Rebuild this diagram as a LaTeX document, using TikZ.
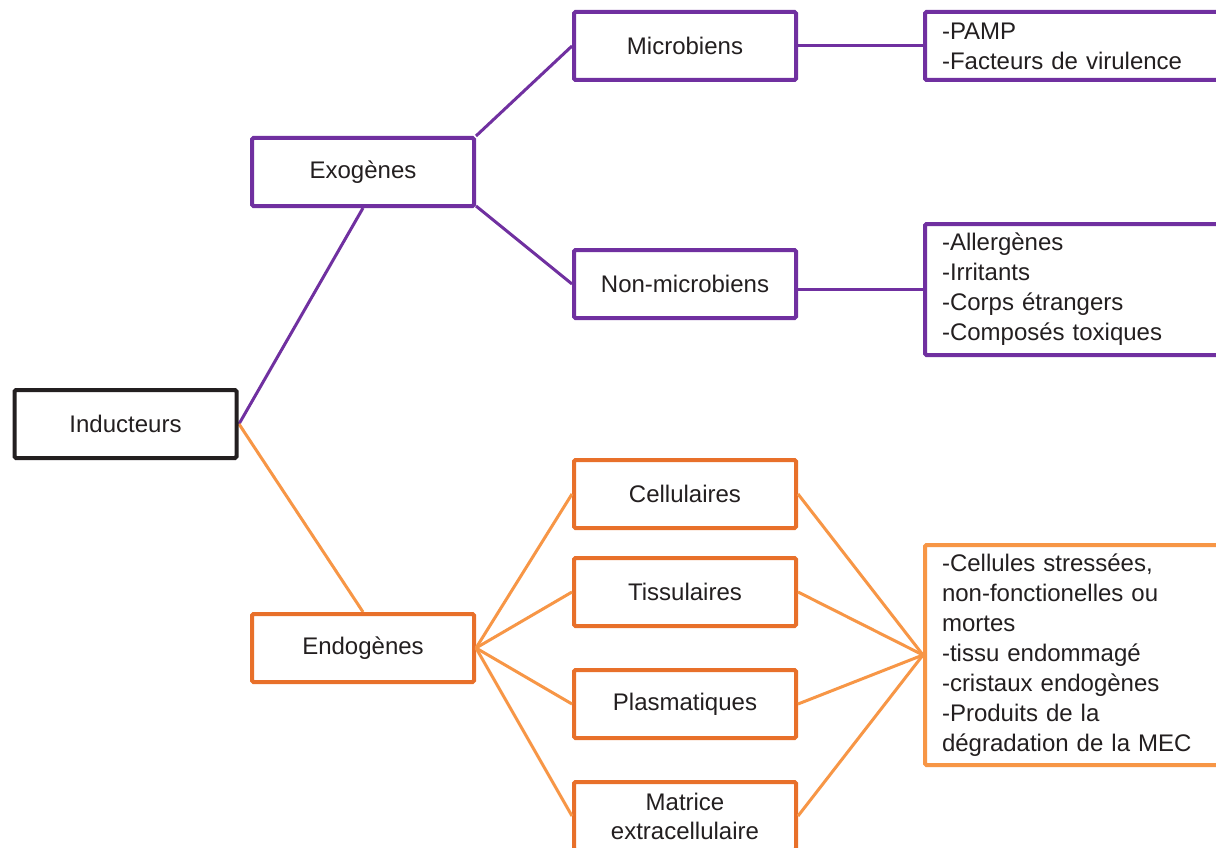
\documentclass[tikz,border=0pt]{standalone}
\usepackage{fontspec}
\setmainfont{Liberation Sans}
\definecolor{purp}{HTML}{7030A0}
\definecolor{orgdark}{HTML}{E8702A}
\definecolor{orglight}{HTML}{F79646}
\definecolor{txt}{HTML}{231F20}
\begin{document}
\begin{tikzpicture}[x=1pt,y=-1pt,
  box/.style={draw, line width=4pt, rounded corners=1.5pt, minimum width=222pt, minimum height=68pt,
    inner sep=0pt, align=center, text=txt, font=\fontsize{24}{29}\selectfont, fill=white},
  listbox/.style={draw, line width=4pt, rounded corners=1.5pt, anchor=west, text width=280pt,
    inner xsep=17pt, inner ysep=0pt, align=left, text=txt, font=\fontsize{24}{30}\selectfont, fill=white},
  pline/.style={draw=purp, line width=3pt},
  oline/.style={draw=orglight, line width=3pt}]
\clip (0,0) rectangle (1216,848);
\fill[white] (0,0) rectangle (1216,848);
% connectors first
\coordinate (ind) at (239,424);
\coordinate (exs) at (363,208);
\coordinate (enn) at (363,612);
\draw[pline] (ind) -- (exs);
\draw[oline] (ind) -- (enn);
% nodes
\node[box, draw=txt] (inducteurs) at (125.5,424) {Inducteurs};
\node[box, draw=purp] (exo) at (363,172) {Exogènes};
\node[box, draw=purp] (mic) at (685,46) {Microbiens};
\node[box, draw=purp] (nonmic) at (685,284) {Non-microbiens};
\node[box, draw=orgdark] (endo) at (363,648) {Endogènes};
\node[box, draw=orgdark] (cell) at (685,494) {Cellulaires};
\node[box, draw=orgdark] (tiss) at (685,592) {Tissulaires};
\node[box, draw=orgdark] (plas) at (685,704) {Plasmatiques};
\node[box, draw=orgdark] (matr) at (685,816) {Matrice\\extracellulaire};
\node[listbox, draw=purp, minimum height=68pt] (pamp) at (923,46) {-PAMP\\-Facteurs de virulence};
\node[listbox, draw=purp, minimum height=131pt] (allerg) at (923,289.5) {-Allergènes\\-Irritants\\-Corps étrangers\\-Composés toxiques};
\node[listbox, draw=orglight, minimum height=220pt] (big) at (923,655) {-Cellules stressées,\\non-fonctionelles ou\\mortes\\-tissu endommagé\\-cristaux endogènes\\-Produits de la\\dégradation de la MEC};
% remaining connectors
\draw[pline] (exo.north east) -- (mic.west);
\draw[pline] ([yshift=2pt]exo.south east) -- (nonmic.west);
\draw[pline] (mic.east) -- (pamp.west);
\draw[pline] (nonmic.east |- allerg.west) -- (allerg.west);
\foreach \n in {cell,tiss,plas,matr}{
  \draw[oline] (endo.east) -- (\n.west);
  \draw[oline] (\n.east) -- (big.west);
}
\end{tikzpicture}
\end{document}
